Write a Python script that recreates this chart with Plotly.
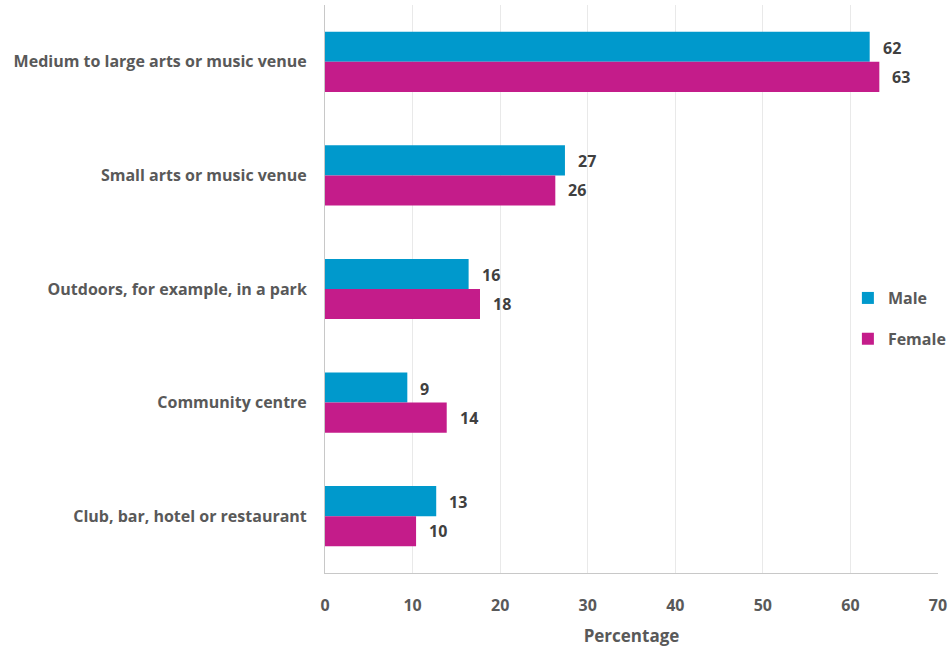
import plotly.graph_objects as go

categories = ["Medium to large arts or music venue", "Small arts or music venue",
              "Outdoors, for example, in a park", "Community centre",
              "Club, bar, hotel or restaurant"]
male = [62.2, 27.4, 16.4, 9.4, 12.7]
female = [63.3, 26.3, 17.7, 13.9, 10.4]
male_labels = ["62", "27", "16", "9", "13"]
female_labels = ["63", "26", "18", "14", "10"]
x_ticks = [0, 10, 20, 30, 40, 50, 60, 70]

MALE_C = "#0099cc"
FEMALE_C = "#c41c8a"
GREY = "#595959"
DARK = "#404040"
FONT = "Open Sans"

fig = go.Figure()
fig.add_trace(go.Bar(y=categories, x=male, orientation="h", name="Male",
                     marker=dict(color=MALE_C, line=dict(width=0)), legendgroup="m"))
fig.add_trace(go.Bar(y=categories, x=female, orientation="h", name="Female",
                     marker=dict(color=FEMALE_C, line=dict(width=0)), legendgroup="f"))

for cat, v, lab in zip(categories, male, male_labels):
    fig.add_annotation(x=v, y=cat, text=f"<b>{lab}</b>", showarrow=False, xanchor="left",
                       xshift=11, yshift=14, font=dict(family=FONT, size=16, color=DARK))
for cat, v, lab in zip(categories, female, female_labels):
    fig.add_annotation(x=v, y=cat, text=f"<b>{lab}</b>", showarrow=False, xanchor="left",
                       xshift=11, yshift=-15, font=dict(family=FONT, size=16, color=DARK))

fig.update_layout(
    width=950, height=648,
    margin=dict(l=325, r=12, t=5, b=75, autoexpand=False),
    plot_bgcolor="white", paper_bgcolor="white",
    barmode="group", bargap=0.47, bargroupgap=0,
    font=dict(family=FONT, color=GREY),
    legend=dict(x=0.853, y=0.448, xanchor="left", yanchor="middle",
                font=dict(family=FONT, size=16, color=GREY, weight="bold"),
                tracegroupgap=17, bgcolor="rgba(0,0,0,0)", itemwidth=30),
    xaxis=dict(range=[0, 70], tickvals=x_ticks, showgrid=True, gridcolor="#e9e9e9",
               gridwidth=1, zeroline=False, showline=True, linecolor="#c8c8c8", linewidth=1,
               tickfont=dict(family=FONT, size=16, color=GREY, weight="bold"),
               ticklabelstandoff=18,
               title=dict(text="<b>Percentage</b>", font=dict(family=FONT, size=17, color=GREY),
                          standoff=14)),
    yaxis=dict(autorange="reversed", showline=True, linecolor="#c8c8c8", linewidth=1,
               showgrid=False, ticks="outside", ticklen=14, tickcolor="rgba(0,0,0,0)",
               tickfont=dict(family=FONT, size=16, color=GREY, weight="bold")),
)

fig.write_html("out.html")
